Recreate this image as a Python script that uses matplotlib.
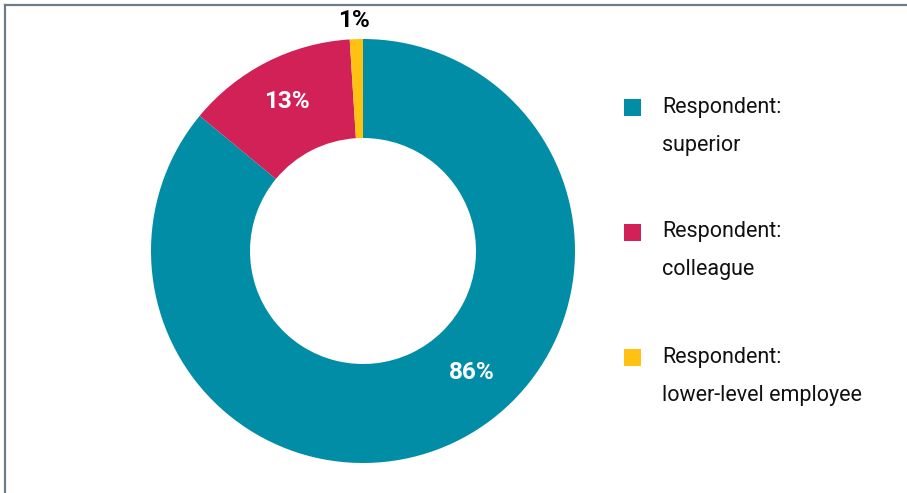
import matplotlib
matplotlib.use("Agg")
import matplotlib.pyplot as plt
import numpy as np
from matplotlib.patches import Rectangle
from matplotlib.lines import Line2D

plt.rcParams['font.family'] = ['Roboto', 'DejaVu Sans']

# shares of respondents
labels = ['Respondent:\nsuperior', 'Respondent:\ncolleague', 'Respondent:\nlower-level employee']
shares = [86, 13, 1]
pct_text = ['86%', '13%', '1%']
colors = ['#028da6', '#d12157', '#ffc212']

W, H = 907, 493
fig = plt.figure(figsize=(W / 100, H / 100), dpi=100)

# donut
cx, cy, R = 363, 242, 212
ax = fig.add_axes([(cx - R) / W, (cy - R) / H, 2 * R / W, 2 * R / H])
hole = 0.533
wedges, _ = ax.pie(shares, colors=colors, startangle=90, counterclock=False,
                   radius=1, wedgeprops=dict(width=1 - hole, linewidth=0))
ax.set_xlim(-1, 1)
ax.set_ylim(-1, 1)
ax.set_aspect('equal')
ax.axis('off')

# percentage labels
w_sup, w_col, w_low = wedges
a = np.deg2rad(-48)
ax.text(0.77 * np.cos(a), 0.77 * np.sin(a), pct_text[0], color='white',
        fontsize=17.5, fontweight='bold', ha='center', va='center')
a = np.deg2rad((w_col.theta1 + w_col.theta2) / 2)
ax.text(0.79 * np.cos(a), 0.79 * np.sin(a), pct_text[1], color='white',
        fontsize=17.5, fontweight='bold', ha='center', va='center')
a = np.deg2rad((w_low.theta1 + w_low.theta2) / 2 + 0.5)
ax.text(1.09 * np.cos(a), 1.09 * np.sin(a), pct_text[2], color='black',
        fontsize=17.5, fontweight='bold', ha='center', va='center', clip_on=False)

# legend drawn by hand
for i, (lab, col) in enumerate(zip(labels, colors)):
    y0 = 107 + 125 * i
    fig.patches.append(Rectangle((624 / W, 1 - (y0 + 8.5) / H), 17 / W, 17 / H,
                                 transform=fig.transFigure, facecolor=col, edgecolor='none'))
    first, second = lab.split('\n')
    fig.text(662 / W, 1 - y0 / H, first, fontsize=15.5, color='#111111', va='center', ha='left')
    fig.text(662 / W, 1 - (y0 + 38) / H, second, fontsize=15.5, color='#111111', va='center', ha='left')

# frame lines on top and left
fig.add_artist(Line2D([5 / W, 1], [1 - 5 / H, 1 - 5 / H], transform=fig.transFigure,
                      color='#6f7c88', lw=1.6))
fig.add_artist(Line2D([5 / W, 5 / W], [0, 1 - 5 / H], transform=fig.transFigure,
                      color='#6f7c88', lw=1.6))

fig.savefig('out.png', dpi=100)
